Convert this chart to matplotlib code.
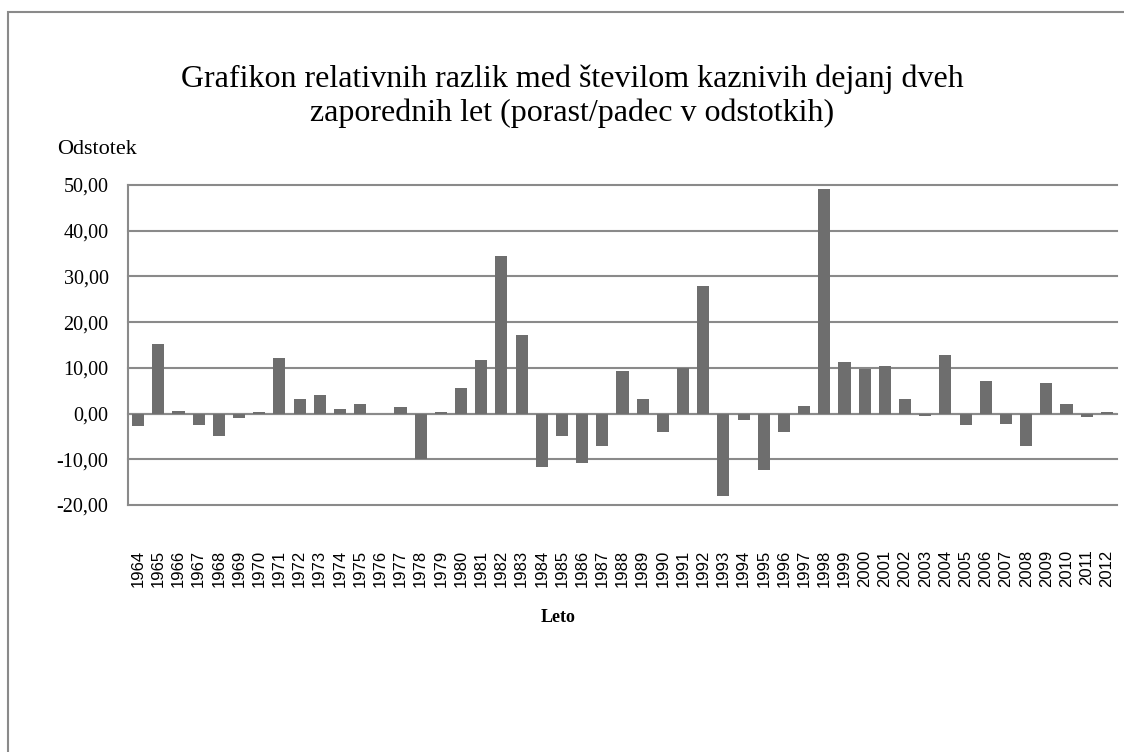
import matplotlib
matplotlib.use("Agg")
import matplotlib.pyplot as plt
from matplotlib.patches import Rectangle

years = [str(y) for y in range(1964, 2013)]
values = [-2.8, 15.3, 0.5, -2.5, -4.8, -0.9, 0.3, 12.1, 3.1, 4.0,
          1.0, 2.2, 0.0, 1.4, -10.0, 0.4, 5.6, 11.7, 34.5, 17.1,
          -11.6, -4.9, -10.8, -7.0, 9.4, 3.1, -4.0, 10.0, 27.9, -18.0,
          -1.3, -12.4, -4.1, 1.7, 49.1, 11.2, 9.7, 10.5, 3.2, -0.6,
          12.8, -2.4, 7.1, -2.3, -7.0, 6.7, 2.2, -0.7, 0.4]
yticks = [-20, -10, 0, 10, 20, 30, 40, 50]
ytick_labels = ["-20,00", "-10,00", "0,00", "10,00", "20,00", "30,00", "40,00", "50,00"]

W, H = 1124, 752
fig = plt.figure(figsize=(W / 100, H / 100), dpi=100)
fig.patch.set_facecolor("white")

# outer chart frame (only left and top visible)
fig.patches.append(Rectangle((8 / W, -0.2), 1.3, 1 - 12 / H + 0.2, transform=fig.transFigure,
                             fill=False, edgecolor="#8a8a8a", linewidth=1.5, clip_on=False))

left, right, top, bottom = 128, 1117, 185, 505
ax = fig.add_axes([left / W, 1 - bottom / H, (right - left) / W, (bottom - top) / H])

x = list(range(len(years)))
ax.bar(x, values, width=0.6, color="#6e6e6e", zorder=3)
ax.set_xlim(-0.5, len(years) - 0.5)
ax.set_ylim(-20, 50)
ax.set_yticks(yticks)
ax.set_yticklabels(ytick_labels, fontfamily="Liberation Serif", fontsize=14.5)
ax.set_xticks(x)
ax.set_xticklabels(years, rotation=90, fontfamily="Liberation Sans", fontsize=12, va="top")
ax.tick_params(axis="y", length=0, pad=14)
ax.tick_params(axis="x", length=0, pad=32)

ax.grid(axis="y", color="#8a8a8a", linewidth=1.5, zorder=1)
for gl in ax.get_ygridlines():
    gl.set_clip_on(False)
ax.axhline(0, color="#8a8a8a", linewidth=1.5, zorder=2)
for s in ["top", "right", "bottom"]:
    ax.spines[s].set_visible(False)
ax.spines["left"].set_color("#8a8a8a")
ax.spines["left"].set_linewidth(1.5)

fig.text(572 / W, 1 - 96 / H,
         "Grafikon relativnih razlik med številom kaznivih dejanj dveh\nzaporednih let (porast/padec v odstotkih)",
         ha="center", va="center", fontfamily="Liberation Serif", fontsize=23, linespacing=1.22)
fig.text(97 / W, 1 - 150 / H, "Odstotek", ha="center", va="center",
         fontfamily="Liberation Serif", fontsize=16)
fig.text(558 / W, 1 - 617 / H, "Leto", ha="center", va="center",
         fontfamily="Liberation Serif", fontsize=13, fontweight="bold")

fig.savefig("out.png", dpi=100, facecolor="white")
